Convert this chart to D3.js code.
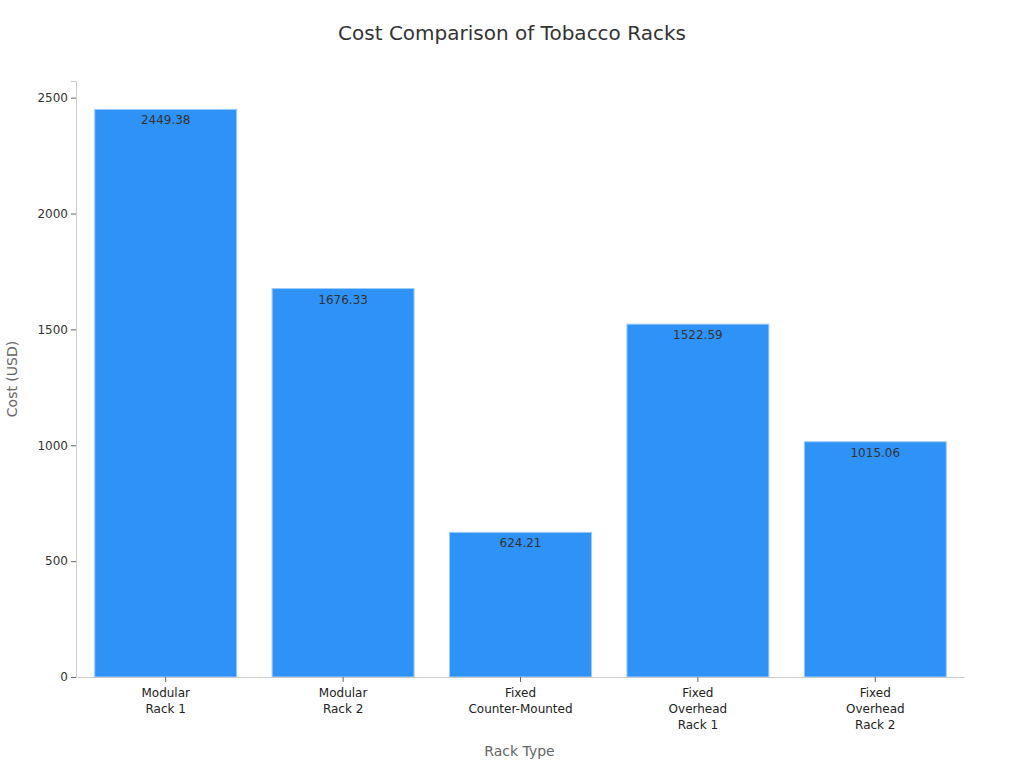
<!DOCTYPE html>
<html><head><meta charset="utf-8">
<script src="https://cdn.jsdelivr.net/npm/d3@7"></script>
<style>body{margin:0;background:#fff;font-family:"DejaVu Sans",sans-serif;}</style>
</head><body><div id="chart"></div>
<script>
const categories = [["Modular","Rack 1"],["Modular","Rack 2"],["Fixed","Counter-Mounted"],["Fixed","Overhead","Rack 1"],["Fixed","Overhead","Rack 2"]];
const values = [2449.38, 1676.33, 624.21, 1522.59, 1015.06];
const yTicks = [0, 500, 1000, 1500, 2000, 2500];

const W = 1024, H = 768;
const m = {left: 76, right: 61, top: 81, bottom: 91};
const svg = d3.select("#chart").append("svg").attr("width", W).attr("height", H);
const keys = categories.map((c,i)=>i);
const x = d3.scaleBand().domain(keys).range([m.left + 1, W - m.right + 1]).paddingInner(0.2).paddingOuter(0.1);
const y = d3.scaleLinear().domain([0, d3.max(values)*1.05]).range([H - m.bottom, m.top]);

svg.append("text").attr("x", 512).attr("y", 40).attr("text-anchor","middle")
  .attr("font-size", 20).attr("fill","#333").text("Cost Comparison of Tobacco Racks");

svg.selectAll("rect.bar").data(values).join("rect").attr("class","bar")
  .attr("x",(d,i)=>x(i)).attr("width",x.bandwidth())
  .attr("y",d=>y(d)).attr("height",d=>y(0)-y(d))
  .attr("fill","#2f92f7").attr("stroke","#9ccbf8").attr("stroke-width",1);

svg.selectAll("text.val").data(values).join("text").attr("class","val")
  .attr("x",(d,i)=>x(i)+x.bandwidth()/2).attr("y",d=>y(d)+15)
  .attr("text-anchor","middle").attr("font-size",12).attr("fill","#333")
  .text(d=>d.toFixed(2));

const ya = svg.append("g").attr("transform",`translate(${m.left},0)`)
  .call(d3.axisLeft(y).tickValues(yTicks).tickFormat(d3.format("d")).tickSize(5).tickPadding(3));
ya.select(".domain").attr("stroke","#ccc");
ya.selectAll(".tick line").attr("stroke","#666");
ya.selectAll(".tick text").attr("font-size",12).attr("fill","#333").attr("font-family","DejaVu Sans");

const xa = svg.append("g").attr("transform",`translate(0,${H - m.bottom})`)
  .call(d3.axisBottom(x).tickSize(5).tickSizeOuter(0).tickFormat(""));
xa.select(".domain").attr("stroke","#ccc");
xa.selectAll(".tick line").attr("stroke","#666");
xa.selectAll(".tick").each(function(d){
  const t = d3.select(this).append("text").attr("fill","#222").attr("font-size",12)
    .attr("text-anchor","middle").attr("font-family","DejaVu Sans");
  categories[d].forEach((line,j)=>{
    t.append("tspan").attr("x",0).attr("y",20 + j*16).text(line);
  });
});

svg.append("text").attr("x",(m.left + W - m.right)/2).attr("y",756).attr("text-anchor","middle")
  .attr("font-size",14).attr("fill","#666").text("Rack Type");
svg.append("text").attr("transform",`translate(17,${(m.top + H - m.bottom)/2}) rotate(-90)`)
  .attr("text-anchor","middle").attr("font-size",14).attr("fill","#666").text("Cost (USD)");
</script></body></html>
